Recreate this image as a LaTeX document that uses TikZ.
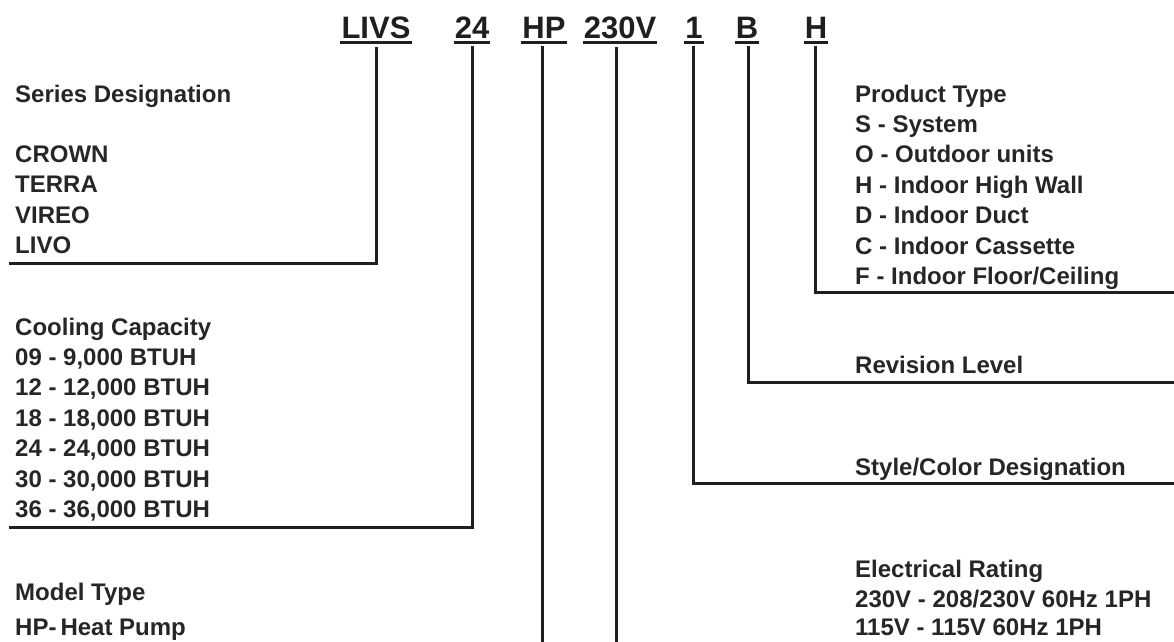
\documentclass[tikz,border=0pt]{standalone}
\usepackage{fontspec}
\setmainfont{Liberation Sans}

\begin{document}
\begin{tikzpicture}[x=1pt,y=-1pt,
  code/.style={font=\fontsize{31}{31}\selectfont\bfseries, text=black!88,
    inner xsep=1pt, inner ysep=4pt, anchor=base},
  block/.style={font=\fontsize{24}{30.4}\selectfont\bfseries, text=black!85,
    align=left, anchor=north west, inner sep=0pt},
  link/.style={draw=black!88, line width=3pt}]

\useasboundingbox (0,0) rectangle (1174,641);

% Model number
\node[code] (livs)  at (376,38) {LIVS};
\node[code] (cap)   at (472,38) {24};
\node[code] (mtype) at (544,38) {HP};
\node[code] (volt)  at (620,38) {230V};
\node[code] (style) at (694,38) {1};
\node[code] (rev)   at (747,38) {B};
\node[code] (ptype) at (816,38) {H};

\foreach \n in {livs,cap,mtype,volt,style,rev,ptype}
  \draw[link] (\n.south west) -- (\n.south east);

% Left descriptions (placed by the top of the first line)
\node[block] (series) at (15,84.5)
  {Series Designation\\[30pt]CROWN\\TERRA\\VIREO\\LIVO};
\node[block] (capacity) at (15,317.5)
  {Cooling Capacity\\09 - 9,000 BTUH\\12 - 12,000 BTUH\\18 - 18,000 BTUH\\24 - 24,000 BTUH\\30 - 30,000 BTUH\\36 - 36,000 BTUH};
\node[block] (model) at (15,582.5) {Model Type\\[4.5pt]HP-\,Heat Pump};

% Right descriptions
\node[block] (product) at (855,84.5)
  {Product Type\\S - System\\O - Outdoor units\\H - Indoor High Wall\\D - Indoor Duct\\C - Indoor Cassette\\F - Indoor Floor/Ceiling};
\node[block] (revision) at (855,355.5) {Revision Level};
\node[block] (color) at (855,457.5) {Style/Color Designation};
\node[block] (elec) at (855,559.5)
  {Electrical Rating\\230V - 208/230V 60Hz 1PH\\[-2pt]115V - 115V 60Hz 1PH};

% Line ends
\coordinate (series end)   at (9,263);
\coordinate (capacity end) at (9,527);
\coordinate (model end)    at (542,650);
\coordinate (elec end)     at (616,650);
\coordinate (color end)    at (1180,483);
\coordinate (revision end) at (1180,382);
\coordinate (product end)  at (1180,292);

% Leaders
\draw[link] ([yshift=-4pt]livs.south) |- (series end);
\draw[link] ([yshift=-4pt]cap.south) |- (capacity end);
\draw[link] ([xshift=-2pt,yshift=-4pt]mtype.south) -- (model end);
\draw[link] ([xshift=-4pt,yshift=-4pt]volt.south) -- (elec end);
\draw[link] ([xshift=-1pt,yshift=-4pt]style.south) |- (color end);
\draw[link] ([xshift=1pt,yshift=-4pt]rev.south) |- (revision end);
\draw[link] ([xshift=-1pt,yshift=-4pt]ptype.south) |- (product end);

\end{tikzpicture}
\end{document}
